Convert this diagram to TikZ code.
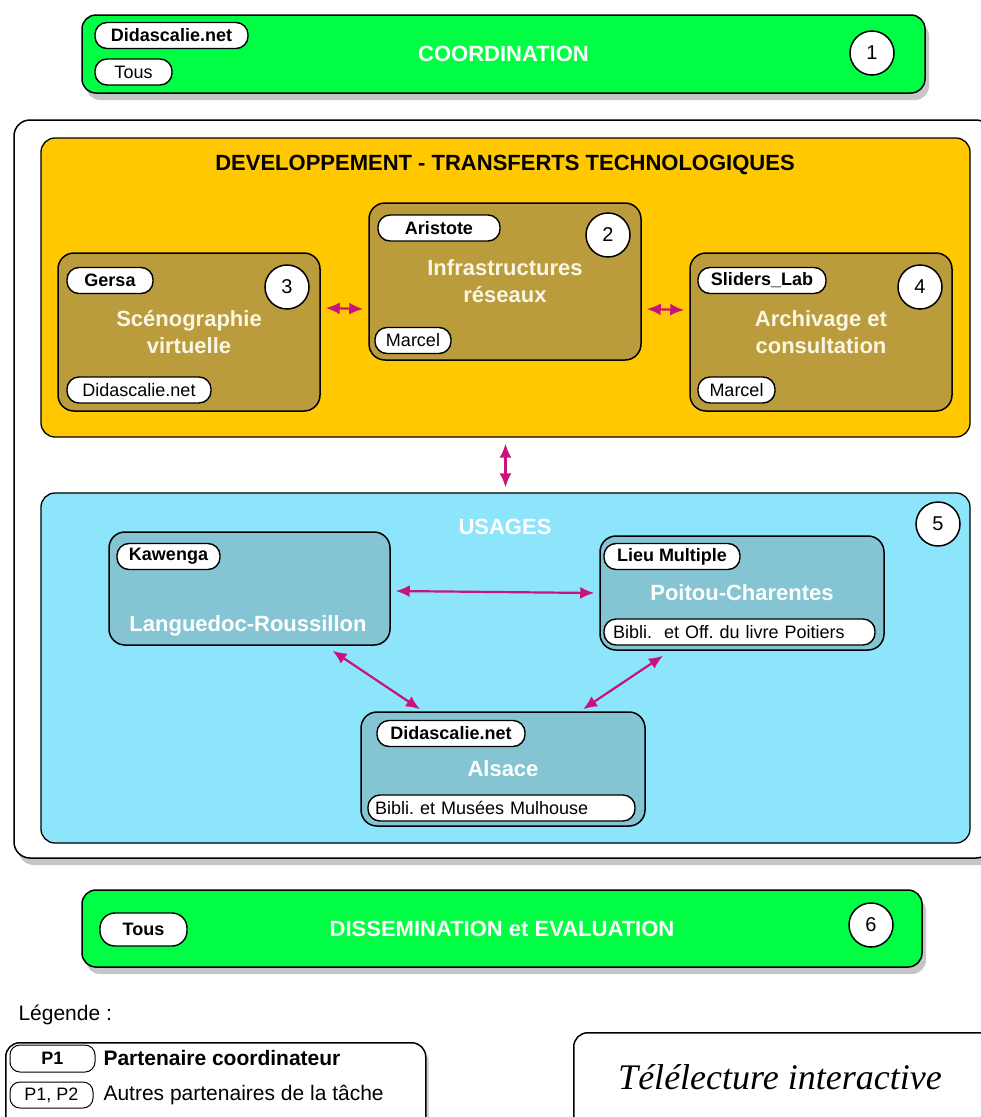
\documentclass[tikz,border=0pt]{standalone}
\usepackage{fontspec}
\setmainfont{Liberation Sans}
\newfontfamily\teleserif{Liberation Serif}
\usepackage{tikz}
\usetikzlibrary{arrows.meta, positioning, shadows}
\usepackage{xcolor}
\frenchspacing
\definecolor{taskgreen}{RGB}{0,255,68}
\definecolor{devorange}{RGB}{255,200,0}
\definecolor{techolive}{RGB}{186,156,60}
\definecolor{usageblue}{RGB}{140,229,250}
\definecolor{siteteal}{RGB}{132,196,211}
\definecolor{linkmagenta}{RGB}{200,20,122}
\definecolor{titlecream}{RGB}{250,246,228}
\newcommand{\boxFont}{\fontsize{22}{27}\selectfont\bfseries}
\newcommand{\pillFont}{\fontsize{18}{20}\selectfont}
\newcommand{\legendFont}{\fontsize{21}{24}\selectfont}
\tikzset{%
	task bar/.style={
		draw,
		line width=1.5pt,
		fill=taskgreen,
		rounded corners=14pt,
		text=white,
		font=\boxFont,
		drop shadow={shadow xshift=4pt, shadow yshift=-7pt, opacity=.45}
	},
	outer frame/.style={
		draw,
		line width=1.5pt,
		fill=white,
		rounded corners=16pt,
		drop shadow={shadow xshift=4pt, shadow yshift=-7pt, opacity=.45}
	},
	group box/.style={
		draw,
		line width=1.3pt,
		rounded corners=14pt,
		minimum width=929pt
	},
	group title/.style={
		font=\boxFont
	},
	tech box/.style={
		draw,
		line width=1.5pt,
		fill=techolive,
		rounded corners=16pt,
		minimum width=262pt,
		minimum height=158pt,
		text=titlecream,
		font=\boxFont,
		align=center
	},
	usage box/.style={
		draw,
		line width=1.5pt,
		fill=siteteal,
		rounded corners=16pt,
		minimum width=284pt,
		minimum height=114pt,
		text=white,
		font=\boxFont
	},
	partner pill/.style={
		draw,
		line width=1.4pt,
		fill=white,
		rounded corners=12pt,
		minimum height=26pt,
		inner sep=0pt,
		font=\pillFont
	},
	lead pill/.style={
		partner pill,
		font=\pillFont\bfseries
	},
	wide pill/.style={
		partner pill,
		inner xsep=8pt,
		text width=253pt,
		align=left
	},
	task number/.style={
		circle,
		draw,
		line width=1.5pt,
		fill=white,
		minimum size=44pt,
		inner sep=0pt,
		font=\fontsize{20}{22}\selectfont
	},
	link/.style={
		{Latex[length=14pt,width=12pt]}-{Latex[length=14pt,width=12pt]},
		line width=2.2pt,
		draw=linkmagenta
	},
	legend frame/.style={
		draw,
		line width=1.5pt,
		fill=white,
		rounded corners=14pt,
		drop shadow={shadow xshift=3pt, shadow yshift=-5pt, opacity=.35}
	},
}

\begin{document}
\begin{tikzpicture}[x=1pt, y=-1pt]
	% Page frame of the picture
	\useasboundingbox (0,0) rectangle (981,1117);
	\clip (0,0) rectangle (981,1117);
	
	% Coordination task
	\node[task bar, minimum width=843pt, minimum height=78pt] (coord) at (503.5,54) {COORDINATION};
	
	% Frame round the technical tasks
	\node[outer frame, minimum width=978pt, minimum height=738pt] (frame) at (503,489) {};
	
	% Development and transfers
	\node[group box, fill=devorange, minimum height=299pt] (dev) at (505.5,287.5) {};
	\node[group title] (devtitle) at (505,165) {DEVELOPPEMENT - TRANSFERTS TECHNOLOGIQUES};
	\node[tech box] (scene) at (189,332) {Scénographie\\virtuelle};
	\node[tech box, minimum width=272pt, minimum height=157pt] (infra) at (505,281.5) {Infrastructures\\réseaux};
	\node[tech box] (archive) at (821,332) {Archivage et\\consultation};
	
	% Usages on the three sites
	\node[group box, fill=usageblue, minimum height=350pt] (usages) at (505.5,668) {};
	\node[group title, text=white] (usagetitle) at (505,527) {USAGES};
	\node[usage box, minimum width=281pt, minimum height=113pt] (langue) at (249.5,588.5) {};
	\node[font=\boxFont, text=white] (languetitle) at (248,626) {Languedoc-Roussillon};
	\node[usage box] (poitou) at (742,593) {Poitou-Charentes};
	\node[usage box] (alsace) at (503,769) {Alsace};
	
	% Dissemination task
	\node[task bar, minimum width=840pt, minimum height=77pt] (dissem) at (502,928.5) {DISSEMINATION et EVALUATION};
	
	% Coordinating partners
	\foreach \x/\y/\w/\name [count=\i] in {171.5/35.5/153/Didascalie.net, 439/228/122/Aristote, 110/280.5/86/Gersa, 762/280.5/128/Sliders\_Lab, 168.5/556.5/103/Kawenga, 672/556.5/136/Lieu Multiple, 451/733.5/148/Didascalie.net} {
		\node[lead pill, minimum width=\w pt] (lead\i) at (\x,\y) {\name};
	}
	\node[lead pill, minimum width=87pt, minimum height=33pt, rounded corners=15pt] (leadall) at (143.5,929.5) {Tous};
	
	% Other partners of each task
	\foreach \x/\y/\w/\name [count=\i] in {133.5/72/77/Tous, 413/340.5/76/Marcel, 139/390/144/Didascalie.net, 736.5/390/77/Marcel} {
		\node[partner pill, minimum width=\w pt] (other\i) at (\x,\y) {\name};
	}
	\node[wide pill, inner xsep=9pt] (poitiers) at (739.5,632) {Bibli.\ \ et Off. du livre Poitiers};
	\node[wide pill, inner xsep=7pt] (mulhouse) at (501.5,808) {Bibli. et Musées Mulhouse};
	
	% Task numbers
	\foreach \num/\x/\y in {1/872/53, 2/608/235, 3/287/287, 4/920/287, 5/938/524, 6/871/925} {
		\node[task number] (num\num) at (\x,\y) {\num};
	}
	
	% Links between tasks
	\draw[link] ([xshift=5pt,yshift=24pt]scene.east) -- ([xshift=-5pt,yshift=-27.5pt]infra.west);
	\draw[link] ([xshift=5pt,yshift=-27.5pt]infra.east) -- ([xshift=-5pt,yshift=22pt]archive.west);
	\draw[link] ([yshift=-6pt]dev.south) -- ([yshift=5pt]usages.north);
	\draw[link] ([xshift=5pt,yshift=-2.5pt]langue.east) -- ([xshift=-5pt]poitou.west);
	\draw[link] ([xshift=83pt,yshift=-5pt]langue.south) -- ([xshift=-83pt,yshift=2pt]alsace.north);
	\draw[link] ([xshift=-79pt,yshift=-5pt]poitou.south) -- ([xshift=80pt,yshift=2pt]alsace.north);
	
	% Legend
	\node[anchor=west, font=\legendFont] (legtitle) at (15,1015) {Légende :};
	\node[legend frame, anchor=north west, minimum width=420pt, minimum height=95pt] (legend) at (5,1042) {};
	\node[lead pill, line width=1pt, rounded corners=10pt, minimum width=85pt, minimum height=27pt] (legleader) at (52.5,1058.5) {P1};
	\node[partner pill, line width=1pt, rounded corners=10pt, minimum width=83pt] (legothers) at (51.5,1095) {P1, P2};
	\node[anchor=west, font=\legendFont\bfseries] (legleadtext) at (100,1058) {Partenaire coordinateur};
	\node[anchor=west, font=\legendFont] (legothertext) at (100,1095) {Autres partenaires de la tâche};
	
	% Title box
	\node[legend frame, anchor=north west, minimum width=430pt, minimum height=105pt] (tele) at (573,1032) {};
	\node[font=\teleserif\itshape\fontsize{36}{40}\selectfont] (teletext) at (780,1077) {Télélecture interactive};
\end{tikzpicture}
\end{document}
